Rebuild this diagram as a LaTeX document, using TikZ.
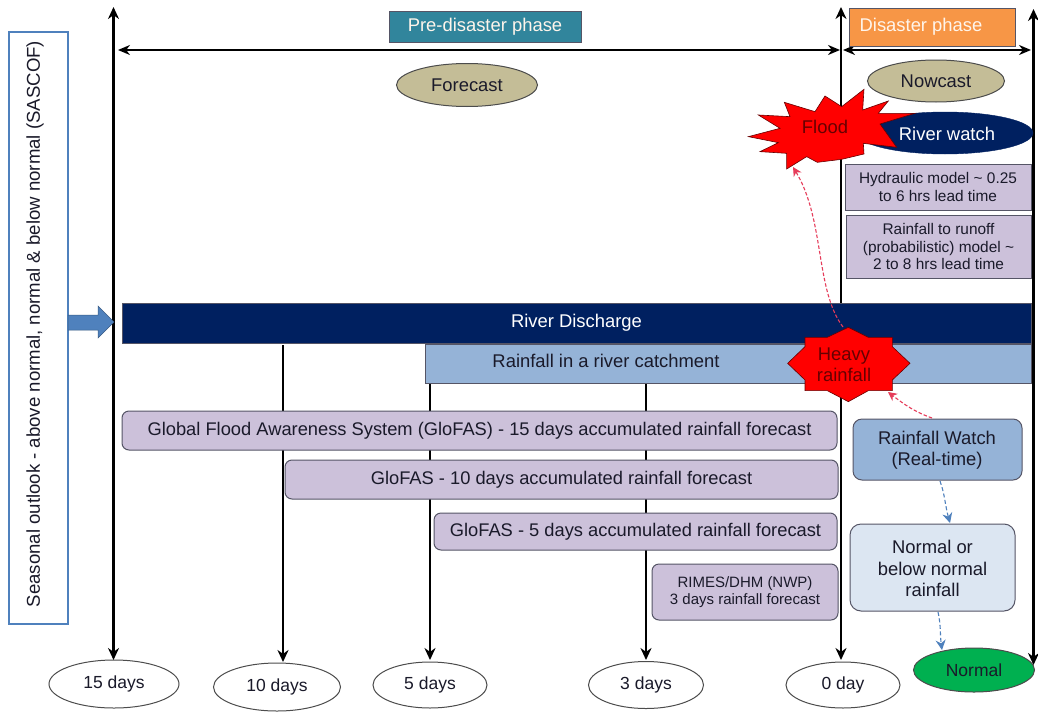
\documentclass[tikz,border=0pt]{standalone}
\usepackage{fontspec}
\setmainfont{Liberation Sans}
\usetikzlibrary{arrows.meta,shapes.geometric}
\definecolor{teal1}{HTML}{31859C}
\definecolor{orange1}{HTML}{F79646}
\definecolor{khaki1}{HTML}{C4BD97}
\definecolor{navy1}{HTML}{002060}
\definecolor{lilac}{HTML}{CCC1DA}
\definecolor{sky1}{HTML}{95B3D7}
\definecolor{pale1}{HTML}{DCE6F2}
\definecolor{green1}{HTML}{00B050}
\definecolor{blue1}{HTML}{4F81BD}
\definecolor{edge1}{HTML}{555566}
\definecolor{ink}{HTML}{1A1A2A}
\definecolor{rose1}{HTML}{E63C5A}
\newcommand{\setfs}[1]{\dimen0=#1pt \dimen0=1.15\dimen0 \fontsize{#1}{\the\dimen0}\selectfont}
\newcommand{\dn}[1]{\raisebox{-1.5pt}{#1}}
\tikzset{
 px/.style={x=1pt,y=-1pt},
 fs/.style={font=\setfs{#1}},
 box/.style={draw=edge1,line width=1pt,inner sep=0pt,align=center,text=ink},
 bar/.style={box,rounded corners=7pt,fill=lilac},
 oval/.style={ellipse,draw=black!70,line width=1pt,inner sep=0pt,align=center,text=ink},
 timeline/.style={line width=2.8pt,black,-{Stealth[length=12pt,width=11pt]}},
 twoway/.style={line width=2.8pt,black,{Stealth[length=12pt,width=11pt]}-{Stealth[length=12pt,width=11pt]}},
 span/.style={line width=2pt,black,{Stealth[length=12pt,width=10pt]}-{Stealth[length=12pt,width=10pt]}},
 reddash/.style={dash pattern=on 3.5pt off 2pt,line width=1.1pt,rose1,-{Stealth[length=9pt,width=9pt]}},
 bluedash/.style={dash pattern=on 4pt off 2.5pt,line width=1.1pt,blue1,-{Stealth[length=10pt,width=10pt]}},
}
\newcommand{\bx}[6]{%
 \node[#6,minimum width=#4pt-#2pt,minimum height=#5pt-#3pt] (#1) at ({(#2+#4)/2},{(#3+#5)/2})}
\begin{document}
\begin{tikzpicture}[px]
\useasboundingbox (0,0) rectangle (1038,712);
\fill[white] (0,0) rectangle (1038,712);
% end ovals
\node[oval,fill=white,minimum width=130pt,minimum height=48pt,fs=17.5] (d15) at (114,684) {\dn{15 days}};
\node[oval,fill=white,minimum width=127pt,minimum height=48pt,fs=17.5] (d10) at (277,687) {\dn{10 days}};
\node[oval,fill=white,minimum width=114pt,minimum height=46pt,fs=17.5] (d5) at (430,685) {\dn{5 days}};
\node[oval,fill=white,minimum width=115pt,minimum height=47pt,fs=17.5] (d3) at (646,685) {\dn{3 days}};
\node[oval,fill=white,minimum width=114pt,minimum height=46pt,fs=17.5] (d0) at (843,685) {\dn{0 day}};
\node[oval,fill=green1,minimum width=121pt,minimum height=44pt,fs=17.5] (dn) at (974,670) {Normal};
% anchors for time lines
\coordinate (t15) at (113.5,7); \coordinate (b15) at (113.5,660);
\coordinate (t0) at (841,7); \coordinate (b0) at (841,660);
\coordinate (tr) at (1033.5,9); \coordinate (br) at (1033.5,665);
\coordinate (t10) at (283,345); \coordinate (b10) at (283,662);
\coordinate (t5) at (430,345); \coordinate (b5) at (430,660);
\coordinate (t3) at (646,383); \coordinate (b3) at (646,660);
\draw[twoway] (t15) -- (b15);
\draw[twoway] (t0) -- (b0);
\draw[twoway] (tr) -- (br);
\draw[timeline] (t10) -- (b10);
\draw[timeline] (t5) -- (b5);
\draw[timeline] (t3) -- (b3);
% spans
\coordinate (sa) at (118,50); \coordinate (sb) at (840,50);
\coordinate (sc) at (843,50); \coordinate (sd) at (1031,50);
\draw[span] (sa) -- (sb);
\draw[span] (sc) -- (sd);
% headers
\bx{pre}{389}{11}{581}{42}{box,fill=teal1,text=white!92!orange,fs=18.4}{\raisebox{-2pt}{Pre-disaster phase}};
\bx{dis}{849}{8}{1015}{46}{box,fill=orange1,text=white!92!orange,fs=18.4}{\raisebox{2pt}{\mbox{Disaster phase\hspace{22pt}}}};
\node[oval,fill=khaki1,minimum width=141pt,minimum height=43pt,fs=18.4] (fc) at (467,85) {Forecast};
\node[oval,fill=khaki1,minimum width=137pt,minimum height=42pt,fs=18.4] (nc) at (936,81) {Nowcast};
\node[ellipse,fill=navy1,draw=navy1,minimum width=176pt,minimum height=42pt,inner sep=0pt] (rw) at (945,133) {};
% model boxes
\bx{hyd}{845}{164}{1031}{210}{box,fill=lilac,fs=15.4}{Hydraulic model \textasciitilde{} 0.25\\to 6 hrs lead time};
\bx{rof}{846}{215}{1031}{278}{box,fill=lilac,fs=15.4}{Rainfall to runoff\\(probabilistic) model \textasciitilde\\2 to 8 hrs lead time};
% bars
\bx{rd}{122}{303}{1031}{343}{draw=edge1,fill=navy1,text=white,inner sep=0pt,fs=18.4}{\raisebox{-1pt}{River Discharge}};
\node[draw=edge1,line width=.8pt,fill=sky1,minimum width=606pt,minimum height=39pt,inner sep=0pt] (rc) at (728,363.5) {};
\node[fs=18.4,text=ink] (rct) at (606,361) {Rainfall in a river catchment};
\bx{g15}{122}{411}{837}{450}{bar,fs=18.3}{Global Flood Awareness System (GloFAS) - 15 days accumulated rainfall forecast};
\bx{g10}{285}{460}{838}{499}{bar,fs=18.3}{GloFAS - 10 days accumulated rainfall forecast};
\bx{g5}{434}{513}{837}{550}{bar,fs=18.3}{\raisebox{-2pt}{GloFAS - 5 days accumulated rainfall forecast}};
\bx{rim}{652}{564}{838}{620}{bar,fs=15}{RIMES/DHM (NWP)\\3 days rainfall forecast};
\node[box,rounded corners=9pt,fill=sky1,fs=18.4,minimum width=169pt,minimum height=61pt] (rwt) at (937.5,449.5) {};
\node[fs=18.4,align=center,text=ink] (rwtl) at (937,450.5) {Rainfall Watch\\(Real-time)};
\node[box,rounded corners=11pt,fill=pale1,fs=18.4,minimum width=165pt,minimum height=87pt] (nor) at (932.5,567.5) {};
\node[fs=18.4,align=center,text=ink] (norl) at (932.5,568.5) {Normal or\\below normal\\rainfall};
% seasonal box
\bx{sea}{9}{32}{68}{624}{draw=blue1,line width=2.5pt,fill=white,inner sep=0pt}{};
\node[rotate=90,fs=18.6,text=ink] (seat) at (35,324) {Seasonal outlook - above normal, normal \& below normal (SASCOF)};
% block arrow
\fill[blue1,draw=blue1!70!black,line width=.5pt] (68,315) -- (98,315) -- (98,306) -- (114,322) -- (98,338) -- (98,330) -- (68,330) -- cycle;
% Flood star
\begin{scope}[x=0.3333pt,y=-0.3333pt,xshift=740pt]
\draw[fill=red,draw=black!60!red,line width=.6pt] (25,410) -- (120,385) -- (55,345) -- (150,350) -- (133,307) -- (225,335) -- (255,288) -- (305,320) -- (372,268) -- (368,330) -- (445,303) -- (415,340) -- (525,340) -- (420,372) -- (470,442) -- (370,430) -- (372,462) -- (305,478) -- (232,487) -- (200,470) -- (140,507) -- (140,460) -- (60,455) -- (115,428) -- cycle;
\end{scope}
\node[fs=18.4,text=black!60!red] (fl) at (825,127) {Flood};
\node[fs=18.4,text=white] (rwl) at (947,134) {River watch};
% Heavy star
\begin{scope}[x=0.3333pt,y=-0.3333pt,xshift=740pt,yshift=-300pt]
\draw[fill=red,draw=black!60!red,line width=.6pt] (325,82) -- (385,112) -- (457,112) -- (457,140) -- (510,190) -- (457,240) -- (457,272) -- (385,272) -- (325,305) -- (262,272) -- (195,272) -- (195,240) -- (143,190) -- (195,140) -- (195,112) -- (262,112) -- cycle;
\end{scope}
\node[fs=18.4,align=center,text=black!60!red] (hv) at (844,365) {Heavy\\rainfall};
% dashed connectors
\coordinate (h1) at (843,327); \coordinate (f1) at (793,167);
\coordinate (w1) at (932,418); \coordinate (h2) at (888,392);
\coordinate (w2) at (940,481); \coordinate (n1) at (950,523);
\coordinate (n2) at (938,612); \coordinate (e1) at (942,650);
\draw[reddash] (h1) .. controls (815,290) and (825,220) .. (f1);
\draw[reddash] (w1) .. controls (915,412) and (905,405) .. (h2);
\draw[bluedash] (w2) .. controls (945,495) and (945,505) .. (n1);
\draw[bluedash] (n2) .. controls (941,625) and (940,635) .. (e1);
\end{tikzpicture}
\end{document}
